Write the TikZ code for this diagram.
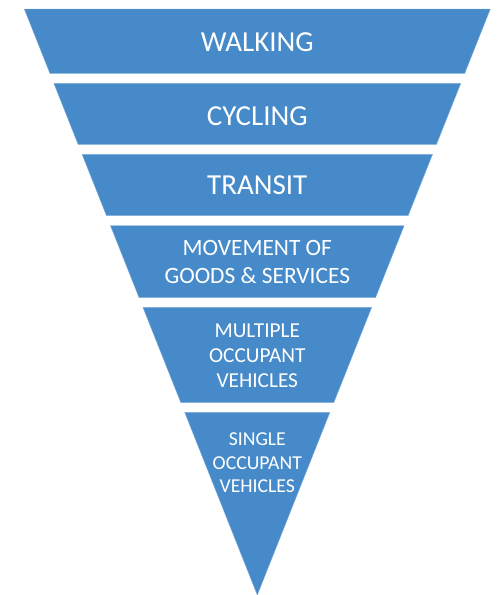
\documentclass[tikz,border=0pt]{standalone}
\usepackage{fontspec}
\setmainfont{Carlito}
\definecolor{funnelblue}{RGB}{71,138,202}
\tikzset{
  band/.style={fill=funnelblue, draw=funnelblue!70!white, line width=0.4pt},
  label/.style={text=white, inner sep=0pt, align=center},
  bigtext/.style={label, font=\fontsize{29}{34}\selectfont},
  midtext/.style={label, font=\fontsize{23.4}{27.5}\selectfont},
  smalltext/.style={label, font=\fontsize{21.3}{25}\selectfont},
  tinytext/.style={label, font=\fontsize{19.7}{23.5}\selectfont},
}
% half width of the funnel at height y (pixels from top)
\newcommand\funnelband[2]{%
  \pgfmathsetmacro\hwa{0.397611*(595-#1)}%
  \pgfmathsetmacro\hwb{0.397611*(595-#2)}%
  \fill[band] (257.3-\hwa,#1) -- (257.3+\hwa,#1) -- (257.3+\hwb,#2) -- (257.3-\hwb,#2) -- cycle;%
}
\begin{document}
\begin{tikzpicture}[x=1pt,y=-1pt]
\useasboundingbox (0,0) rectangle (497,595);
\funnelband{9}{73.3}
\funnelband{83.3}{144.3}
\funnelband{154.3}{215.7}
\funnelband{225.7}{297.7}
\funnelband{307.3}{402.7}
\fill[band] (257.3-72.6,412.3) -- (257.3+72.6,412.3) -- (257.3,595) -- cycle;
\node[bigtext] (walking) at (257.3,42) {WALKING};
\node[bigtext] (cycling) at (257.3,116.3) {CYCLING};
\node[bigtext] (transit) at (257.3,185.5) {TRANSIT};
\node[midtext] (goods) at (257.3,262) {MOVEMENT OF\\GOODS \& SERVICES};
\node[smalltext] (multiple) at (257.3,356) {MULTIPLE\\OCCUPANT\\VEHICLES};
\node[tinytext] (single) at (257.3,463) {SINGLE\\OCCUPANT\\VEHICLES};
\end{tikzpicture}
\end{document}
